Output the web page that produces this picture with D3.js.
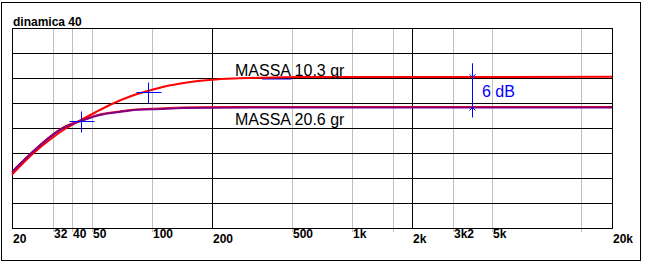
<!DOCTYPE html>
<html>
<head>
<meta charset="utf-8">
<script src="https://cdn.jsdelivr.net/npm/d3@7/dist/d3.min.js"></script>
<style>
    body { margin: 0; background: #ffffff; }
    text { font-family: "Liberation Sans", Arial, sans-serif; }
</style>
</head>
<body>
<svg width="647" height="267"></svg>
<script>
const title = "dinamica 40";
const dbTicks = [0, 5, 10, 15, 20, 25, 30, 35, 40];
const majorFreqs = [20, 200, 2000, 20000];
const majorLabels = ["20", "200", "2k", "20k"];
const minorFreqs = [32, 40, 50, 100, 500, 1000, 1600, 3200, 5000, 14000];
const minorLabels = ["32", "40", "50", "100", "500", "1k", "", "3k2", "5k", ""];

// MASSA 10.3 gr
const redFreq = [20, 25.5, 31, 36.8, 44.3, 52.6, 63.2, 77.8, 95.7, 116, 147, 200, 260, 356, 551, 20000];
const redDb   = [10.6, 14.8, 17.6, 19.7, 21.5, 23.1, 24.7, 26.2, 27.3, 28.2, 28.95, 29.55, 29.8, 29.96, 30.08, 30.14];
// MASSA 20.6 gr
const purpleFreq = [20, 25.5, 36.8, 44.3, 55, 69, 78, 110, 143, 311, 20000];
const purpleDb   = [11.2, 15.3, 20.2, 21.4, 22.6, 23.2, 23.5, 23.8, 24.0, 24.1, 24.1];

const seriesNames = ["MASSA 10.3 gr", "MASSA 20.6 gr"];
// -3 dB markers
const markerFreq = [96, 44.3];
const markerDb = [27.2, 21.4];
// short blue trace under the red curve
const blueFreq = [356, 500];
const blueDb = [29.8, 29.8];
// 6 dB difference marker
const diffFreq = 3990;
const diffLabel = "6 dB";

const svg = d3.select("svg");
const x = d3.scaleLog().domain([20, 20000]).range([12, 612]);
const y = d3.scaleLinear().domain([0, 40]).range([228, 28]);

svg.append("rect")
    .attr("x", 1.5).attr("y", 2.5)
    .attr("width", 639).attr("height", 258)
    .attr("fill", "#ffffff")
    .attr("stroke", "#000000");

svg.append("text")
    .attr("x", 13).attr("y", 26)
    .attr("font-size", "12px").attr("font-weight", "bold")
    .text(title);

// gray frequency lines
svg.selectAll(".minor").data(minorFreqs).enter().append("line")
    .attr("x1", d => Math.round(x(d)) + 0.5).attr("x2", d => Math.round(x(d)) + 0.5)
    .attr("y1", y(40)).attr("y2", y(0) + 4)
    .attr("stroke", "#c0c0c0");

// horizontal dB lines
svg.selectAll(".hgrid").data(dbTicks).enter().append("line")
    .attr("x1", x(20)).attr("x2", x(20000) + 1)
    .attr("y1", d => Math.round(y(d)) + 0.5).attr("y2", d => Math.round(y(d)) + 0.5)
    .attr("stroke", "#000000");

// black decade lines
svg.selectAll(".major").data(majorFreqs).enter().append("line")
    .attr("x1", d => Math.round(x(d)) + 0.5).attr("x2", d => Math.round(x(d)) + 0.5)
    .attr("y1", y(40)).attr("y2", y(0) + 1)
    .attr("stroke", "#000000");

svg.selectAll(".majorLabel").data(majorFreqs).enter().append("text")
    .attr("x", d => Math.round(x(d)) + 1).attr("y", 242.5)
    .attr("font-size", "12px").attr("font-weight", "bold")
    .text((d, i) => majorLabels[i]);

svg.selectAll(".minorLabel").data(minorFreqs).enter().append("text")
    .attr("x", d => Math.round(x(d)) + 1).attr("y", 237.5)
    .attr("font-size", "12px").attr("font-weight", "bold")
    .text((d, i) => minorLabels[i]);

const line = d3.line()
    .x(d => x(d[0]))
    .y(d => y(d[1]))
    .curve(d3.curveMonotoneX);

svg.append("path")
    .datum(blueFreq.map((f, i) => [f, blueDb[i]]))
    .attr("d", line)
    .attr("fill", "none").attr("stroke", "#0000ff").attr("stroke-width", 1);

svg.append("path")
    .datum(redFreq.map((f, i) => [f, redDb[i]]))
    .attr("d", line)
    .attr("fill", "none").attr("stroke", "#ff0000").attr("stroke-width", 2)
    .attr("transform", "translate(0,-0.5)");

svg.append("path")
    .datum(purpleFreq.map((f, i) => [f, purpleDb[i]]))
    .attr("d", line)
    .attr("fill", "none").attr("stroke", "#ff0000").attr("stroke-width", 1)
    .attr("transform", "translate(0,-1)");

svg.append("path")
    .datum(purpleFreq.map((f, i) => [f, purpleDb[i]]))
    .attr("d", line)
    .attr("fill", "none").attr("stroke", "#800080").attr("stroke-width", 2);

// -3 dB crosses
markerFreq.forEach((f, i) => {
    const cx = Math.round(x(f)) + 0.5;
    const cy = Math.round(y(markerDb[i])) + 0.5;
    svg.append("line")
        .attr("x1", cx - 12).attr("x2", cx + 13).attr("y1", cy).attr("y2", cy)
        .attr("stroke", "#0000ff");
    svg.append("line")
        .attr("x1", cx).attr("x2", cx).attr("y1", cy - 10).attr("y2", cy + 11)
        .attr("stroke", "#0000ff");
});

svg.append("text")
    .attr("x", 235).attr("y", 76)
    .attr("font-size", "16px")
    .text(seriesNames[0]);

svg.append("text")
    .attr("x", 235).attr("y", 125)
    .attr("font-size", "16px")
    .text(seriesNames[1]);

// 6 dB dimension
const ax = Math.round(x(diffFreq)) + 0.5;
const yTop = y(redDb[redDb.length - 1]);
const yBot = y(purpleDb[purpleDb.length - 1]);
svg.append("line")
    .attr("x1", ax).attr("x2", ax).attr("y1", yTop - 14).attr("y2", yBot + 10)
    .attr("stroke", "#0000ff");
svg.append("path")
    .attr("d", `M${ax - 3},${yTop - 3}L${ax},${yTop}L${ax + 3},${yTop - 3}`)
    .attr("fill", "none").attr("stroke", "#0000ff");
svg.append("path")
    .attr("d", `M${ax - 3},${yBot + 3}L${ax},${yBot}L${ax + 3},${yBot + 3}`)
    .attr("fill", "none").attr("stroke", "#0000ff");
svg.append("text")
    .attr("x", 482).attr("y", 97)
    .attr("font-size", "16px")
    .attr("fill", "#0000ff")
    .text(diffLabel);
</script>
</body>
</html>
